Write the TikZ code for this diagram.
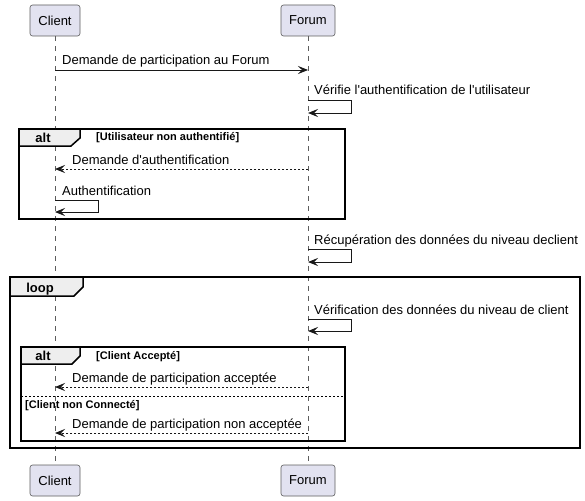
\documentclass[tikz,border=0pt]{standalone}
\usepackage{fontspec}
\setmainfont{Liberation Sans}
\usetikzlibrary{arrows.meta}
\definecolor{ink}{HTML}{181818}
\definecolor{partfill}{HTML}{E2E2F0}
\definecolor{tabfill}{HTML}{EEEEEE}
\begin{document}
\begin{tikzpicture}[x=1pt,y=-1pt,
  font=\fontsize{13}{15}\selectfont,
  participant/.style={draw=ink!70, fill=partfill, rounded corners=2.5pt, minimum height=31pt, inner sep=0pt, line width=0.6pt},
  lifeline/.style={draw=ink!70, line width=0.6pt, dash pattern=on 5pt off 5pt},
  msg/.style={draw=ink, line width=0.9pt, -{Stealth[length=10pt,width=8pt,inset=4pt]}},
  ret/.style={msg, dash pattern=on 2pt off 2pt},
  lbl/.style={anchor=base west, inner sep=0pt, text=black},
  frame/.style={draw=black, line width=1.5pt},
  tab/.style={draw=black, line width=1.5pt, fill=tabfill},
  tablbl/.style={anchor=base, inner sep=0pt, font=\fontsize{13}{15}\selectfont\bfseries},
  cond/.style={anchor=base west, inner sep=0pt, font=\fontsize{11}{13}\selectfont\bfseries},
  sep/.style={draw=black, line width=0.9pt, dash pattern=on 2pt off 2pt}
]
\useasboundingbox (0,0) rectangle (585,500);
% participants
\node[participant, minimum width=50pt] (client) at (55,20.5) {Client};
\node[participant, minimum width=54pt] (forum) at (308,20.5) {Forum};
\node[participant, minimum width=50pt] (clientb) at (55,480.5) {Client};
\node[participant, minimum width=54pt] (forumb) at (308,480.5) {Forum};
% lifelines
\draw[lifeline] (client.south) -- (clientb.north);
\draw[lifeline] (forum.south) -- (forumb.north);
% frames
\draw[frame] (19,129) rectangle (345,219);
\draw[tab] (19,129) -- (80,129) -- (80,138) -- (71,146) -- (19,146) -- cycle;
\node[tablbl] (alt1) at (43,142) {alt};
\node[cond] (c1) at (96,140.5) {[Utilisateur non authentifié]};

\draw[frame] (10,277) rectangle (580,448);
\draw[tab] (10,277) -- (83,277) -- (83,287) -- (74,296) -- (10,296) -- cycle;
\node[tablbl] (loop) at (40,292) {loop};

\draw[frame] (21,347) rectangle (345,441);
\draw[tab] (21,347) -- (80,347) -- (80,356) -- (72,364) -- (21,364) -- cycle;
\node[tablbl] (alt2) at (43,360.5) {alt};
\node[cond] (c2) at (96,359.5) {[Client Accepté]};
\draw[sep] (21,396) -- (345,396);
\node[cond] (c3) at (25,408.5) {[Client non Connecté]};

% messages
\draw[msg] (client.center |- 0,70) -- (forum.center |- 0,70);
\node[lbl] (m1) at (62,65) {Demande de participation au Forum};

\draw[msg] (forum.center |- 0,100) -- (351,100) -- (351,113) -- (forum.center |- 0,113);
\node[lbl] (m2) at (314,95) {Vérifie l\textquotesingle authentification de l\textquotesingle utilisateur};

\draw[ret] (forum.center |- 0,169) -- (client.center |- 0,169);
\node[lbl] (m3) at (72,164) {Demande d\textquotesingle authentification};

\draw[msg] (client.center |- 0,200) -- (98,200) -- (98,212) -- (client.center |- 0,212);
\node[lbl] (m4) at (62,195) {Authentification};

\draw[msg] (forum.center |- 0,249) -- (351,249) -- (351,262) -- (forum.center |- 0,262);
\node[lbl] (m5) at (314,244) {Récupération des données du niveau declient};

\draw[msg] (forum.center |- 0,319) -- (351,319) -- (351,331) -- (forum.center |- 0,331);
\node[lbl] (m6) at (314,314) {Vérification des données du niveau de client};

\draw[ret] (forum.center |- 0,387) -- (client.center |- 0,387);
\node[lbl] (m7) at (72,382) {Demande de participation acceptée};

\draw[ret] (forum.center |- 0,433) -- (client.center |- 0,433);
\node[lbl] (m8) at (72,428) {Demande de participation non acceptée};
\end{tikzpicture}
\end{document}
